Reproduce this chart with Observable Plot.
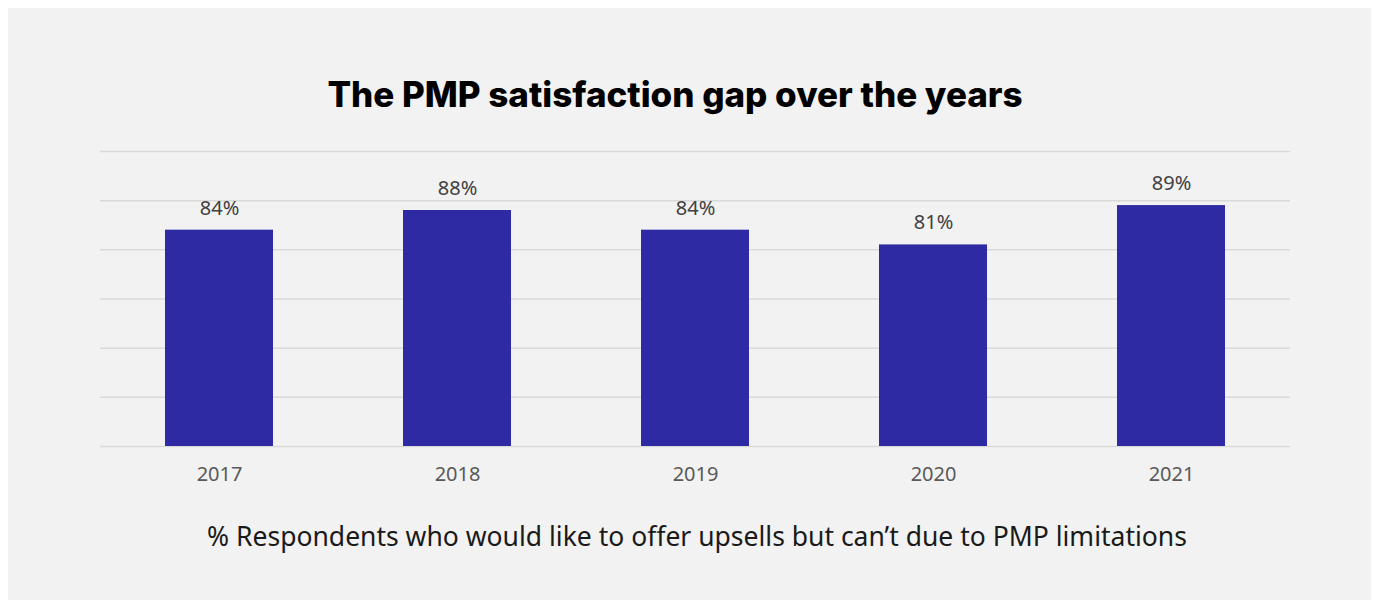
<!DOCTYPE html>
<html>
<head>
<meta charset="utf-8">
<script src="https://cdn.jsdelivr.net/npm/d3@7"></script>
<script src="https://cdn.jsdelivr.net/npm/@observablehq/plot@0.6"></script>
<style>
  html, body { margin: 0; padding: 0; background: #ffffff; width: 1374px; height: 602px; overflow: hidden; }
  #panel { position: absolute; left: 8px; top: 8px; width: 1363px; height: 592px; background: #f2f2f2; }
  #title { position: absolute; left: 0; width: 1334px; top: 65px; text-align: center;
           font-family: Inter, "Liberation Sans", sans-serif; font-weight: 800; font-size: 35px; color: #000; letter-spacing: 0px; }
  #chart { position: absolute; left: 0; top: 114px; }
  #caption { position: absolute; left: 0; width: 1378px; top: 510px; text-align: center;
             font-family: "Noto Sans", sans-serif; font-size: 26.5px; color: #1a1a1a; }
</style>
</head>
<body>
<div id="panel">
  <div id="title"></div>
  <div id="chart"></div>
  <div id="caption"></div>
</div>
<script>
const titleText = "The PMP satisfaction gap over the years";
const captionText = "% Respondents who would like to offer upsells but can’t due to PMP limitations";
const years = ["2017", "2018", "2019", "2020", "2021"];
const values = [84, 88, 84, 81, 89];
const yTicks = [40, 50, 60, 70, 80, 90, 100];
const yBase = 40;

document.getElementById("title").textContent = titleText;
document.getElementById("caption").textContent = captionText;

const data = years.map((y, i) => ({year: y, value: values[i]}));

const chart = Plot.plot({
  width: 1363,
  height: 374,
  marginLeft: 92,
  marginRight: 81,
  marginTop: 29,
  marginBottom: 50,
  style: {background: "transparent", fontFamily: "'Noto Sans', sans-serif"},
  x: {domain: years, paddingInner: 0.546, paddingOuter: 0.273, label: null},
  y: {domain: [yTicks[0], yTicks[yTicks.length - 1]], axis: null, label: null},
  marks: [
    Plot.ruleY(yTicks, {stroke: "#d9d9d9", strokeWidth: 1.5}),
    Plot.barY(data, {x: "year", y1: yBase, y2: "value", fill: "#2e2aa3"}),
    Plot.text(data, {x: "year", y: "value", text: d => d.value + "%", dy: -22,
      fontSize: 20, fill: "#404040", style: {letterSpacing: "1px"}}),
    Plot.axisX({tickSize: 0, tickPadding: 20, fontSize: 20, color: "#595959", label: null, style: {letterSpacing: "1px"}})
  ]
});
document.getElementById("chart").appendChild(chart);
</script>
</body>
</html>
